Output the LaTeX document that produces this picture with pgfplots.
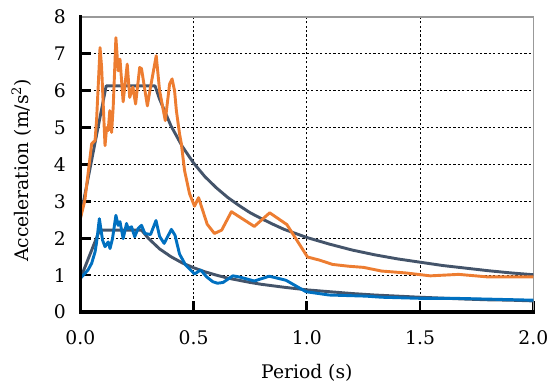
\documentclass[border=0pt]{standalone}
\usepackage{fontspec}
\setmainfont{DejaVu Serif}
\usepackage{pgfplots}
\pgfplotsset{compat=1.18}
\definecolor{dgray}{HTML}{44546A}
\definecolor{orng}{HTML}{ED7D31}
\definecolor{blu}{HTML}{0070C0}
\newcommand{\lblfont}{\fontsize{13.5}{16}\selectfont}
\begin{document}
\begin{tikzpicture}
\begin{axis}[
  name=ax,
  scale only axis,
  width=326.5pt, height=212.6pt,
  xmin=0, xmax=2, ymin=0, ymax=8,
  xtick={0,0.5,1,1.5,2},
  ytick={0,1,2,3,4,5,6,7,8},
  /pgf/number format/assume math mode=true,
  xticklabel style={/pgf/number format/fixed, /pgf/number format/fixed zerofill, /pgf/number format/precision=1, yshift=-10pt},
  yticklabel style={xshift=-7pt},
  tick label style={font=\lblfont},
  label style={font=\lblfont},
  xlabel={Period (s)},
  ylabel={Acceleration (m/s\textsuperscript{2})},
  xlabel style={at={(axis description cs:0.5,0)}, anchor=base, yshift=-47.6pt},
  ylabel style={at={([xshift=-37.5pt]axis description cs:0,0.48)}, anchor=base},
  xtick pos=bottom, ytick pos=left,
  tick align=inside,
  major tick length=8pt,
  tick style={black, line width=2pt},
  axis line style={draw=gray!80, line width=0.8pt},
  grid=major,
  major grid style={black, line width=0.6pt, dash pattern=on 1.6pt off 1.6pt},
]
% design spectrum 1
\addplot[dgray, line width=2.1pt, line join=round] coordinates {
(0,2.55) (0.114,6.13) (0.33,6.13) (0.35,5.77) (0.40,5.05) (0.45,4.49) (0.50,4.04)
(0.55,3.67) (0.60,3.37) (0.65,3.11) (0.70,2.89) (0.75,2.69) (0.80,2.53) (0.85,2.38)
(0.90,2.24) (0.95,2.13) (1.00,2.02) (1.10,1.84) (1.20,1.68) (1.30,1.55) (1.40,1.44)
(1.50,1.35) (1.60,1.26) (1.70,1.19) (1.80,1.12) (1.90,1.06) (2.00,1.01)
};
% design spectrum 2
\addplot[dgray, line width=2.1pt, line join=round] coordinates {
(0,0.9) (0.085,2.22) (0.27,2.22) (0.30,2.0) (0.35,1.71) (0.40,1.5) (0.45,1.33)
(0.50,1.2) (0.55,1.09) (0.60,1.0) (0.65,0.92) (0.70,0.86) (0.75,0.80) (0.80,0.75)
(0.90,0.67) (1.00,0.60) (1.10,0.55) (1.20,0.50) (1.30,0.46) (1.40,0.43) (1.50,0.40)
(1.60,0.375) (1.70,0.35) (1.80,0.33) (1.90,0.32) (2.00,0.30)
};
% orange
\addplot[orng, line width=2.1pt, line join=round] coordinates {
(0,2.53) (0.02,3.03) (0.05,4.56) (0.065,4.65) (0.072,5.24) (0.087,7.17) (0.094,6.63)
(0.109,4.51) (0.116,5.0) (0.123,4.92) (0.130,5.46) (0.138,4.87) (0.145,5.55)
(0.152,6.63) (0.157,7.44) (0.167,6.54) (0.175,6.86) (0.189,5.7) (0.207,6.72)
(0.218,5.82) (0.232,6.1) (0.244,5.64) (0.262,6.63) (0.27,6.6) (0.296,5.59)
(0.307,6.0) (0.335,6.95) (0.35,6.0) (0.375,5.19) (0.394,6.18) (0.405,6.32)
(0.416,6.0) (0.424,5.46) (0.438,4.83) (0.446,4.56) (0.460,3.84) (0.482,3.21)
(0.504,2.87) (0.522,3.1) (0.56,2.38) (0.592,2.13) (0.624,2.22) (0.667,2.72)
(0.768,2.32) (0.836,2.69) (0.912,2.37) (1.003,1.49) (1.054,1.41) (1.113,1.29)
(1.186,1.24) (1.25,1.21) (1.33,1.11) (1.435,1.06) (1.545,0.98) (1.67,1.02)
(1.80,0.95) (2.0,0.95)
};
% blue
\addplot[blu, line width=2.1pt, line join=round] coordinates {
(0,0.91) (0.034,1.14) (0.05,1.32) (0.065,1.63) (0.072,1.9) (0.084,2.53) (0.098,1.95)
(0.109,1.77) (0.123,1.9) (0.131,1.72) (0.142,1.99) (0.157,2.62) (0.167,2.35)
(0.175,2.45) (0.189,1.99) (0.204,2.4) (0.211,2.26) (0.226,2.31) (0.24,2.04)
(0.255,2.26) (0.27,2.35) (0.285,2.13) (0.31,2.1) (0.334,2.48) (0.35,2.05)
(0.37,1.86) (0.402,2.24) (0.418,2.08) (0.438,1.57) (0.464,1.28) (0.49,1.12)
(0.504,1.03) (0.531,1.14) (0.558,0.95) (0.585,0.82) (0.605,0.78) (0.63,0.8)
(0.673,0.98) (0.702,0.95) (0.768,0.84) (0.834,0.97) (0.908,0.86) (0.996,0.55)
(1.098,0.46) (1.26,0.43) (1.33,0.40) (1.5,0.37) (1.655,0.37) (2.0,0.32)
};
\end{axis}
\draw[black, line width=2.2pt, line cap=rect] (ax.north west) -- (ax.south west) -- (ax.south east);
\pgfresetboundingbox
\path ([shift={(-57.9pt,-53.3pt)}]ax.south west) rectangle ([shift={(15.6pt,12.25pt)}]ax.north east);
\end{tikzpicture}
\end{document}
